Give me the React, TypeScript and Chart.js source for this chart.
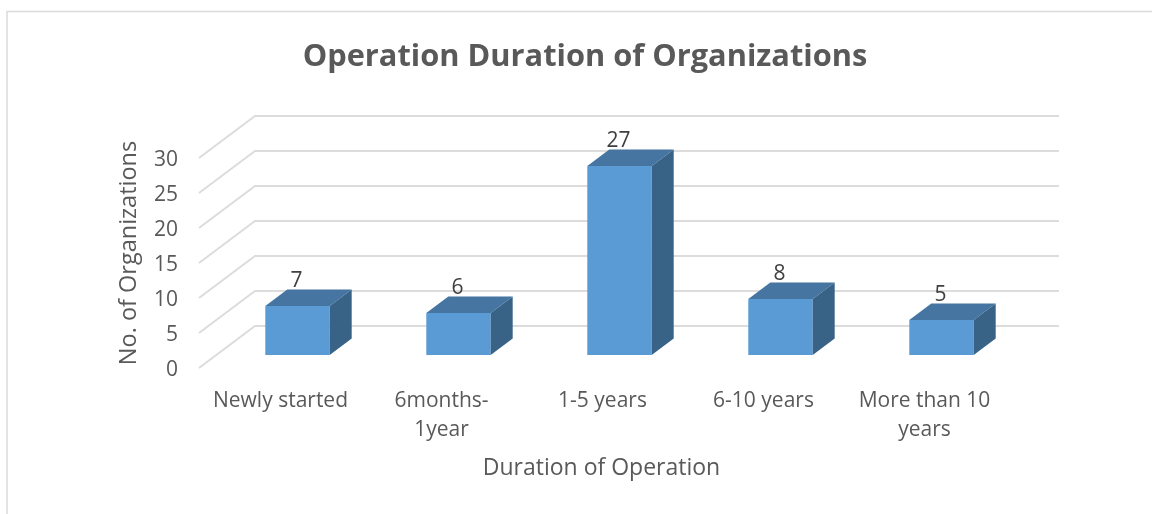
import React, { useEffect, useRef } from "react";
import { Chart, registerables } from "chart.js";

Chart.register(...registerables);

const categories = [
  "Newly started",
  ["6months-", "1year"],
  "1-5 years",
  "6-10 years",
  ["More than 10", "years"],
];
const organizations = [7, 6, 27, 8, 5];
const chartTitle = "Operation Duration of Organizations";
const xAxisTitle = "Duration of Operation";
const yAxisTitle = "No. of Organizations";
const yTickValues = [0, 5, 10, 15, 20, 25, 30];

const FONT = '"Open Sans", sans-serif';
const TEXT = "#595959";
const GRID = "#DCDCDC";
const FRONT = "#5B9BD5";
const TOP = "#4575A0";
const SIDE = "#386387";
const LABEL = "#404040";

// projection of the pseudo-3D scene
const DEPTH_X = 22;
const DEPTH_Y = 16.5;
const WALL_X = 38;
const WALL_Y = 29;
const FLOOR_X = 18;
const FLOOR_Y = 13;

const poly = (ctx: CanvasRenderingContext2D, pts: number[][], fill: string) => {
  ctx.beginPath();
  pts.forEach(([x, y], i) => (i ? ctx.lineTo(x, y) : ctx.moveTo(x, y)));
  ctx.closePath();
  ctx.fillStyle = fill;
  ctx.fill();
};

const scene3d = {
  id: "scene3d",
  beforeDraw(chart: any) {
    const { ctx, width, height, titleBlock, scales } = chart;
    ctx.save();
    ctx.fillStyle = "#fff";
    ctx.fillRect(0, 0, width, height);
    ctx.strokeStyle = "#DADADA";
    ctx.lineWidth = 1.5;
    ctx.beginPath();
    ctx.moveTo(7, height);
    ctx.lineTo(7, 11.5);
    ctx.lineTo(width, 11.5);
    ctx.stroke();
    ctx.restore();
    if (titleBlock && !titleBlock.$moved) {
      titleBlock.left = 0;
      titleBlock.right = 1170;
      titleBlock.$moved = true;
      scales.y.top += 3;
      scales.y.bottom += 3;
    }
  },
  beforeDatasetsDraw(chart: any) {
    const { ctx, chartArea, scales } = chart;
    ctx.save();
    ctx.strokeStyle = GRID;
    ctx.lineWidth = 2;
    yTickValues.forEach((v) => {
      const y = scales.y.getPixelForValue(v);
      ctx.beginPath();
      ctx.moveTo(chartArea.left - FLOOR_X, y + FLOOR_Y);
      ctx.lineTo(chartArea.left + WALL_X, y - WALL_Y);
      ctx.lineTo(chartArea.right + WALL_X - 1, y - WALL_Y);
      ctx.stroke();
    });
    ctx.restore();
  },
  afterDatasetsDraw(chart: any) {
    const { ctx, scales, chartArea } = chart;
    const meta = chart.getDatasetMeta(0);
    ctx.save();
    meta.data.forEach((bar: any, i: number) => {
      const { x, y, base, width } = bar.getProps(["x", "y", "base", "width"], true);
      const l = x - width / 2;
      const r = x + width / 2;
      poly(ctx, [[l, y], [r, y], [r + DEPTH_X, y - DEPTH_Y], [l + DEPTH_X, y - DEPTH_Y]], TOP);
      poly(ctx, [[r, y], [r + DEPTH_X, y - DEPTH_Y], [r + DEPTH_X, base - DEPTH_Y], [r, base]], SIDE);
      ctx.fillStyle = LABEL;
      ctx.font = `21px ${FONT}`;
      ctx.textAlign = "center";
      ctx.textBaseline = "middle";
      ctx.fillText(String(organizations[i]), x - 1, y - 25);
    });
    ctx.fillStyle = TEXT;
    ctx.font = `23px ${FONT}`;
    ctx.textAlign = "center";
    ctx.textBaseline = "middle";
    ctx.fillText(xAxisTitle, (chartArea.left + chartArea.right) / 2 - 18, scales.x.bottom - 46);
    ctx.restore();
  },
};

export default function App() {
  const ref = useRef<HTMLCanvasElement>(null);
  useEffect(() => {
    const chart = new Chart(ref.current!, {
      type: "bar",
      data: {
        labels: categories as any,
        datasets: [
          {
            label: yAxisTitle,
            data: organizations,
            backgroundColor: FRONT,
            categoryPercentage: 1,
            barPercentage: 0.4,
          },
        ],
      },
      options: {
        responsive: false,
        animation: false,
        layout: { padding: { left: 100, right: 130, top: 0, bottom: 0 } },
        plugins: {
          legend: { display: false },
          tooltip: { enabled: false },
          title: {
            display: true,
            text: chartTitle,
            color: TEXT,
            font: { family: FONT, size: 30.8, weight: "bold", lineHeight: 1.2 },
            padding: { top: 39, bottom: 69 },
          },
        },
        scales: {
          x: {
            grid: { display: false, drawTicks: false },
            border: { display: false },
            afterFit: (s: any) => {
              s.height = 159;
            },
            ticks: {
              color: TEXT,
              font: { family: FONT, size: 21, lineHeight: 1.38 },
              padding: 32,
              labelOffset: -17,
              maxRotation: 0,
              minRotation: 0,
              autoSkip: false,
            },
          },
          y: {
            min: 0,
            max: 30,
            grid: { display: false, drawTicks: false },
            border: { display: false },
            afterFit: (s: any) => {
              s.width = 117;
            },
            ticks: {
              stepSize: 5,
              color: TEXT,
              font: { family: FONT, size: 21 },
              padding: 39,
              labelOffset: 15,
            },
            title: {
              display: true,
              text: yAxisTitle,
              color: TEXT,
              font: { family: FONT, size: 23.5, lineHeight: 1.2 },
              padding: { top: 15, bottom: 0 },
            },
          },
        },
      },
      plugins: [scene3d],
    } as any);
    return () => chart.destroy();
  }, []);
  return (
    <div style={{ position: "absolute", left: 0, top: 0, width: 1152, height: 514 }}>
      <canvas ref={ref} width={1152} height={514} style={{ display: "block" }} />
    </div>
  );
}
